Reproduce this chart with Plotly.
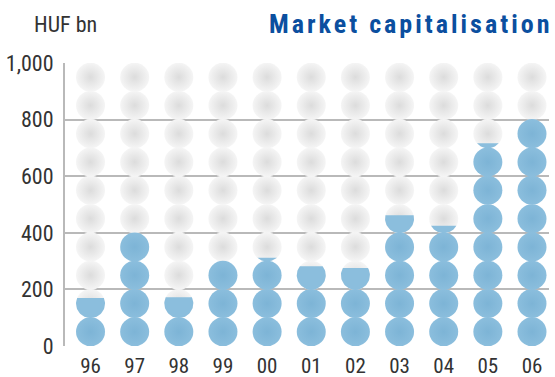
import numpy as np
import plotly.graph_objects as go

# Market capitalisation, HUF bn, one sphere per 100 bn
years = ["96", "97", "98", "99", "00", "01", "02", "03", "04", "05", "06"]
market_cap = [170, 400, 172, 300, 312, 282, 276, 462, 425, 716, 802]
y_ticks = [0, 200, 400, 600, 800, 1000]

UNIT = 100
SLOTS = 10

W, H = 555, 377
M_L, M_R, M_T, M_B = 65, 6, 63, 31
X_RANGE = [-0.578, 10.385]
Y_RANGE = [0, 1000]
SPHERE_PX = 29

FONT = "Roboto Condensed, Roboto, sans-serif"
GRID = "#b9b9b9"
BLUE = "#8bbedd"
BLUE_EDGE = "#7db4d6"
GREY = "#f5f5f5"
GREY_EDGE = "#dcdcdc"

# sphere radius in data units on each axis
px_x = (W - M_L - M_R) / (X_RANGE[1] - X_RANGE[0])
px_y = (H - M_T - M_B) / (Y_RANGE[1] - Y_RANGE[0])
rx = SPHERE_PX / 2 / px_x
ry = SPHERE_PX / 2 / px_y

grey_x, grey_y, blue_x, blue_y = [], [], [], []
part_x, part_y = [], []
for i, v in enumerate(market_cap):
    for k in range(SLOTS):
        cy = k * UNIT + UNIT / 2
        if (k + 1) * UNIT <= v:
            blue_x.append(i)
            blue_y.append(cy)
            continue
        grey_x.append(i)
        grey_y.append(cy)
        if k * UNIT < v:
            # lower part of the sphere, cut flat at the value
            s = np.clip((v - cy) / ry, -1, 1)
            t0 = np.arcsin(s)
            th = np.linspace(np.pi - t0, 2 * np.pi + t0, 60)
            xs = list(i + rx * np.cos(th))
            ys = list(cy + ry * np.sin(th))
            part_x += xs + [xs[0], None]
            part_y += ys + [ys[0], None]

fig = go.Figure()
fig.add_trace(go.Scatter(
    x=grey_x, y=grey_y, mode="markers", hoverinfo="skip",
    marker=dict(size=SPHERE_PX, color=GREY, line=dict(width=0),
                gradient=dict(type="radial", color=GREY_EDGE)),
))
fig.add_trace(go.Scatter(
    x=blue_x, y=blue_y, mode="markers", hoverinfo="skip",
    marker=dict(size=SPHERE_PX, color=BLUE, line=dict(width=0),
                gradient=dict(type="radial", color=BLUE_EDGE)),
))
fig.add_trace(go.Scatter(
    x=part_x, y=part_y, mode="lines", fill="toself", fillcolor=BLUE,
    line=dict(width=0, color=BLUE), hoverinfo="skip",
))

fig.update_layout(
    width=W, height=H,
    margin=dict(l=M_L, r=M_R, t=M_T, b=M_B, pad=0, autoexpand=False),
    paper_bgcolor="white", plot_bgcolor="white",
    showlegend=False,
    font=dict(family=FONT, size=22, color="#333333"),
    xaxis=dict(
        range=X_RANGE, tickmode="array", tickvals=list(range(len(years))),
        ticktext=years, showgrid=False, zeroline=False, showline=False,
        ticks="outside", ticklen=1, tickcolor="rgba(0,0,0,0)",
        tickfont=dict(size=21), automargin=False, fixedrange=True,
    ),
    yaxis=dict(
        range=Y_RANGE, tickmode="array", tickvals=y_ticks,
        tickformat=",", showgrid=True, gridcolor=GRID, gridwidth=2,
        zeroline=False, showline=True, linecolor=GRID, linewidth=2,
        ticks="outside", ticklen=5, tickcolor="rgba(0,0,0,0)",
        automargin=False, fixedrange=True,
    ),
    annotations=[
        dict(text='<span style="letter-spacing:3px">Market capitalisation</span>',
             xref="paper", yref="paper",
             x=(410 - M_L) / (W - M_L - M_R), y=1 + (M_T - 24) / (H - M_T - M_B),
             xanchor="center", yanchor="middle", showarrow=False,
             font=dict(family=FONT, size=26, color="#0b4f9f", weight="bold")),
        dict(text="HUF bn", xref="paper", yref="paper",
             x=(32 - M_L) / (W - M_L - M_R), y=1 + (M_T - 25) / (H - M_T - M_B),
             xanchor="left", yanchor="middle", showarrow=False,
             font=dict(family=FONT, size=22, color="#333333")),
    ],
)

fig.write_html("out.html")
